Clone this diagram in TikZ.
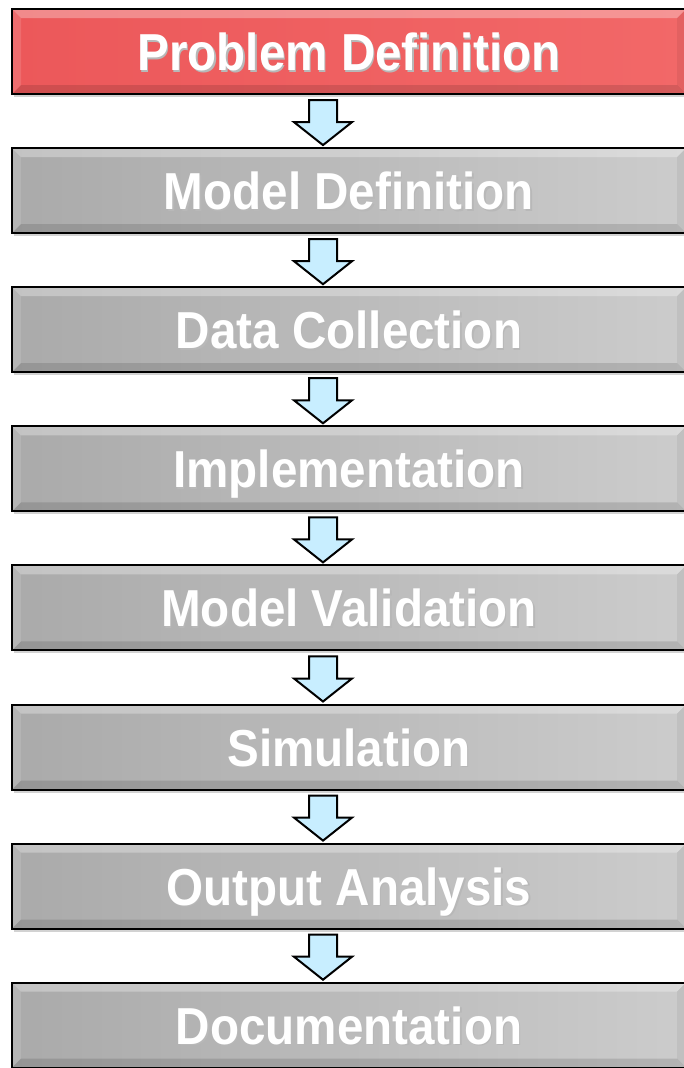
\documentclass[tikz,border=0pt]{standalone}
\usepackage{fontspec}
\setmainfont{Liberation Sans}
\usetikzlibrary{calc,shadows}
\definecolor{boxgrayL}{RGB}{170,170,170}
\definecolor{boxgrayR}{RGB}{204,204,204}
\definecolor{boxredL}{RGB}{236,88,90}
\definecolor{boxredR}{RGB}{242,104,104}
\definecolor{arrowfill}{RGB}{200,238,255}
\newcommand\shtext[1]{\scalebox{0.915}[1]{\leavevmode\rlap{\kern1.5pt\raisebox{-1.5pt}{\color{black!28}#1}}#1}}
\tikzset{
  stagebox/.style={rectangle, draw=black, line width=2pt,
    minimum width=674pt, minimum height=85pt, text=white,
    text height=38pt, text depth=0pt,
    font=\fontsize{52}{52}\selectfont\bfseries,
    drop shadow={shadow xshift=2pt, shadow yshift=-3pt, opacity=0.35},
    path picture={
      \coordinate (nw) at (path picture bounding box.north west);
      \coordinate (se) at (path picture bounding box.south east);
      \fill[white,opacity=0.3] (nw) -- (nw -| se) -- ($(nw -| se)+(-9pt,-9pt)$) -- ($(nw)+(9pt,-9pt)$) -- cycle;
      \fill[white,opacity=0.12] (nw) -- ($(nw)+(9pt,-9pt)$) -- ($(nw |- se)+(9pt,9pt)$) -- (nw |- se) -- cycle;
      \fill[black,opacity=0.12] (nw |- se) -- (se) -- ($(se)+(-9pt,9pt)$) -- ($(nw |- se)+(9pt,9pt)$) -- cycle;
      \fill[black,opacity=0.06] (se) -- (nw -| se) -- ($(nw -| se)+(-9pt,-9pt)$) -- ($(se)+(-9pt,9pt)$) -- cycle;
    }},
  graybox/.style={stagebox, left color=boxgrayL, right color=boxgrayR},
  redbox/.style={stagebox, left color=boxredL, right color=boxredR},
  blockarrow/.style={draw=black, line width=2pt, fill=arrowfill, line join=miter}
}
\begin{document}
\begin{tikzpicture}[x=1pt,y=-1pt]
\useasboundingbox (0,0) rectangle (683,1068);
\fill[white] (0,0) rectangle (683,1068);
\node[redbox] (n1) at (349,51.5) {\shtext{Problem Definition}};
\node[graybox] (n2) at (349,190.6) {\shtext{Model Definition}};
\node[graybox] (n3) at (349,329.7) {\shtext{Data Collection}};
\node[graybox] (n4) at (349,468.8) {\shtext{Implementation}};
\node[graybox] (n5) at (349,607.9) {\shtext{Model Validation}};
\node[graybox] (n6) at (349,747.0) {\shtext{Simulation}};
\node[graybox] (n7) at (349,886.1) {\shtext{Output Analysis}};
\node[graybox] (n8) at (349,1025.2) {\shtext{Documentation}};
\foreach \a/\b in {n1/n2,n2/n3,n3/n4,n4/n5,n5/n6,n6/n7,n7/n8}{
  \draw[blockarrow] let \p1=(\a.south), \p2=(\b.north) in
    (309pt,\y1-5pt) -- (337pt,\y1-5pt) -- (337pt,\y2+25pt) -- (352pt,\y2+25pt)
    -- (323pt,\y2+2pt) -- (294pt,\y2+25pt) -- (309pt,\y2+25pt) -- cycle;
}
\end{tikzpicture}
\end{document}
